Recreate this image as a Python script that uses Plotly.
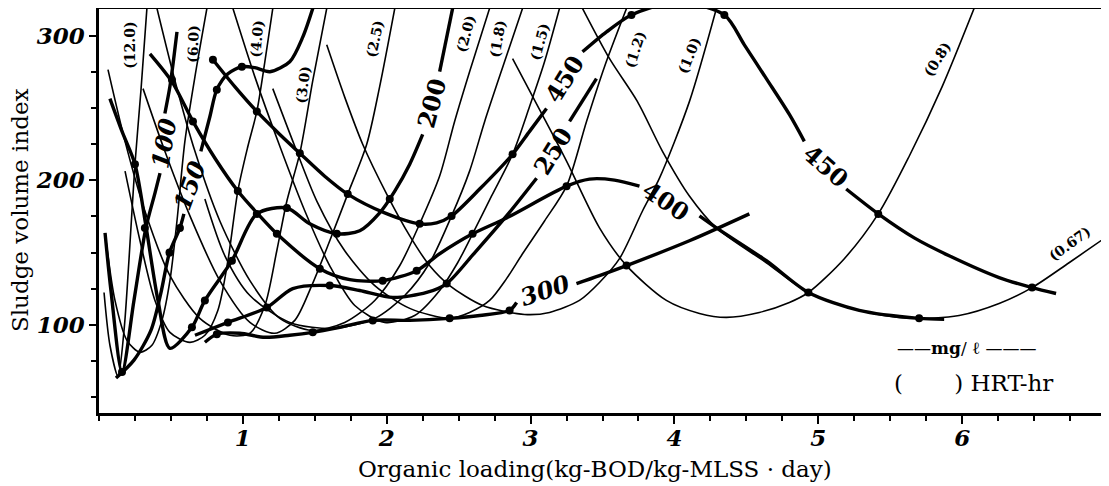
import plotly.graph_objects as go

# ---------------- data ----------------
# Thin curves: hydraulic retention time (HRT, hr). x = organic loading, y = SVI
hrt_12_0_x = [0.035, 0.076, 0.132, 0.174, 0.208, 0.25, 0.292, 0.333]
hrt_12_0_y = [122.4, 85.9, 64.5, 96.2, 144.4, 211.2, 262.8, 319.0]

hrt_6_0_x = [0.049, 0.111, 0.194, 0.285, 0.368, 0.4375, 0.493, 0.542, 0.597, 0.667, 0.75]
hrt_6_0_y = [158.2, 116.9, 89.3, 81.0, 85.9, 103.1, 130.6, 171.9, 227.0, 271.8, 319.0]

hrt_4_0_x = [0.181, 0.285, 0.389, 0.493, 0.632, 0.736, 0.826, 0.896, 0.965, 1.035, 1.097, 1.153, 1.208]
hrt_4_0_y = [206.4, 158.2, 116.9, 94.8, 87.9, 92.8, 110.0, 144.4, 192.6, 223.6, 247.7, 282.1, 319.0]

hrt_3_0_x = [0.0625, 0.181, 0.319, 0.493, 0.701, 0.91, 1.049, 1.153, 1.236, 1.306, 1.396, 1.486, 1.583]
hrt_3_0_y = [276.6, 227.0, 178.8, 134.1, 104.5, 92.8, 94.2, 113.4, 151.3, 185.7, 218.8, 269.0, 319.0]

hrt_2_5_x = [0.306, 0.458, 0.632, 0.840, 1.049, 1.222, 1.361, 1.479, 1.604, 1.729, 1.861, 1.951, 2.056]
hrt_2_5_y = [263.5, 220.1, 175.4, 130.6, 101.7, 94.2, 103.1, 127.2, 158.2, 190.5, 225.0, 264.9, 319.0]

hrt_2_0_x = [0.403, 0.528, 0.667, 0.840, 1.049, 1.257, 1.479, 1.708, 1.917, 2.09, 2.229, 2.368, 2.472, 2.576, 2.715]
hrt_2_0_y = [319.0, 269.0, 220.1, 171.9, 130.6, 104.5, 96.2, 101.7, 116.9, 140.9, 169.9, 203.0, 240.8, 275.2, 319.0]

hrt_1_8_x = [0.736, 0.875, 1.049, 1.326, 1.639, 1.917, 2.125, 2.299, 2.451, 2.576, 2.681, 2.819, 2.944]
hrt_1_8_y = [187.1, 147.8, 120.3, 101.7, 97.6, 104.5, 120.3, 143.0, 175.4, 206.4, 240.8, 282.1, 319.0]

hrt_1_5_x = [0.931, 1.083, 1.257, 1.431, 1.604, 1.778, 1.986, 2.194, 2.368, 2.493, 2.597, 2.729, 2.875, 2.993, 3.097, 3.201]
hrt_1_5_y = [319.0, 271.8, 223.6, 178.8, 140.9, 113.4, 101.7, 106.5, 123.8, 143.0, 163.0, 189.2, 218.1, 251.1, 282.1, 319.0]

hrt_1_2_x = [1.208, 1.361, 1.514, 1.708, 1.917, 2.16, 2.4375, 2.576, 2.715, 2.833, 2.944, 3.097, 3.25, 3.389, 3.514, 3.667]
hrt_1_2_y = [263.5, 223.6, 185.7, 151.3, 127.2, 111.4, 104.5, 108.6, 116.9, 132.0, 149.2, 171.9, 196.0, 240.8, 278.7, 319.0]

hrt_1_0_x = [1.583, 1.708, 1.833, 2.0, 2.16, 2.299, 2.4375, 2.667, 2.958, 3.132, 3.34, 3.479, 3.618, 3.778, 3.896, 4.104, 4.292]
hrt_1_0_y = [293.8, 257.6, 225.0, 190.5, 161.6, 140.9, 127.2, 113.4, 107.2, 108.6, 116.9, 129.3, 145.8, 178.8, 201.5, 254.5, 319.0]

hrt_0_8_x = [2.875, 3.0625, 3.25, 3.479, 3.667, 3.944, 4.174, 4.361, 4.59, 4.799, 4.931, 5.181, 5.417, 5.632, 5.861, 6.083]
hrt_0_8_y = [284.2, 249.0, 213.3, 167.1, 141.0, 116.9, 107.9, 105.2, 108.6, 115.5, 122.4, 145.8, 176.8, 216.7, 264.9, 319.0]

hrt_0_67_x = [3.361, 3.549, 3.743, 3.917, 4.104, 4.292, 4.639, 4.931, 5.285, 5.632, 5.979, 6.257, 6.486, 6.743, 6.993, 7.06]
hrt_0_67_y = [319.0, 284.2, 254.5, 220.1, 189.2, 167.1, 143.0, 122.4, 110.0, 104.5, 106.5, 114.8, 125.8, 143.0, 160.2, 165.0]

hrt_labels = ["(12.0)", "(6.0)", "(4.0)", "(3.0)", "(2.5)", "(2.0)", "(1.8)",
              "(1.5)", "(1.2)", "(1.0)", "(0.8)", "(0.67)"]

# Thick curves: influent concentration (mg/l), split where the label sits
mg_100_a_x = [0.042, 0.083, 0.16, 0.243, 0.326, 0.389, 0.424]
mg_100_a_y = [163.7, 123.8, 67.3, 116.9, 167.1, 191.2, 205.0]
mg_100_b_x = [0.458, 0.493, 0.521, 0.542]
mg_100_b_y = [246.3, 264.9, 285.5, 302.8]

mg_150_a_x = [0.118, 0.243, 0.361, 0.43, 0.49, 0.5625, 0.590]
mg_150_a_y = [63.2, 75.6, 96.2, 122.0, 150.0, 167.1, 176.8]
mg_150_b_x = [0.708, 0.771, 0.819, 0.896, 0.993, 1.083, 1.188, 1.326, 1.417, 1.486]
mg_150_b_y = [220.1, 244.2, 262.8, 273.8, 278.7, 278.0, 275.2, 282.1, 299.3, 319.0]

mg_200_a_x = [0.076, 0.16, 0.25, 0.326, 0.41, 0.493, 0.646, 0.736, 0.924, 1.097, 1.306,
              1.465, 1.653, 1.8125, 1.951, 2.056, 2.16, 2.25]
mg_200_a_y = [256.6, 233.9, 211.2, 168.5, 116.9, 83.8, 98.3, 116.9, 144.4, 176.8, 180.9,
              169.9, 163.0, 165.1, 177.5, 192.6, 211.2, 231.8]
mg_200_b_x = [2.368, 2.458]
mg_200_b_y = [275.2, 319.0]

mg_250_a_x = [0.667, 0.896, 1.167, 1.347, 1.604, 1.8125, 2.042, 2.278, 2.417, 2.611, 2.833, 3.042]
mg_250_a_y = [92.8, 101.7, 112.0, 125.1, 127.2, 123.8, 119.0, 122.4, 128.6, 149.9, 175.4, 201.5]
mg_250_b_x = [3.271, 3.458]
mg_250_b_y = [240.8, 270.4]

mg_300_a_x = [0.736, 0.819, 0.979, 1.153, 1.326, 1.486, 1.674, 1.903, 2.16, 2.4375, 2.646, 2.854, 2.903]
mg_300_a_y = [88.0, 93.5, 94.2, 91.4, 92.8, 94.8, 98.3, 103.1, 103.1, 104.5, 106.5, 110.0, 115.5]
mg_300_b_x = [3.319, 3.479, 3.667, 4.104, 4.521]
mg_300_b_y = [128.6, 134.1, 141.0, 158.2, 176.8]

mg_400_a_x = [0.354, 0.507, 0.653, 0.806, 0.965, 1.104, 1.236, 1.535, 1.743, 1.972, 2.208,
              2.368, 2.597, 2.833, 3.25, 3.41, 3.583, 3.757]
mg_400_a_y = [287.6, 268.3, 240.8, 215.3, 192.6, 176.8, 163.0, 138.9, 131.3, 130.6, 137.5,
              149.2, 163.0, 174.0, 196.0, 200.9, 200.2, 196.0]
mg_400_b_x = [4.174, 4.292, 4.639, 4.931, 5.285, 5.701, 5.875]
mg_400_b_y = [175.4, 167.1, 144.4, 122.4, 110.0, 104.5, 103.8]

mg_450_a_x = [0.792, 0.944, 1.097, 1.257, 1.396, 1.569, 1.729, 1.986, 2.229, 2.347, 2.451,
              2.646, 2.875, 2.993, 3.111]
mg_450_a_y = [283.5, 264.9, 247.7, 231.8, 218.8, 202.9, 190.5, 177.5, 169.9, 170.6, 175.4,
              194.0, 218.1, 233.9, 249.7]
mg_450_b_x = [3.361, 3.528, 3.701, 4.021, 4.347, 4.486, 4.639, 4.799, 4.903]
mg_450_b_y = [289.0, 302.8, 314.5, 323.4, 314.5, 293.8, 270.4, 245.6, 227.0]
mg_450_c_x = [5.194, 5.417, 5.667, 5.91, 6.257, 6.486, 6.653]
mg_450_c_y = [194.0, 176.8, 160.2, 147.8, 132.7, 125.8, 121.7]

mg_labels = ["100", "150", "200", "250", "300", "400", "450", "450"]

# Measured points (dots)
dot_x = [3.701, 4.347, 5.417, 4.931, 6.486, 5.701, 3.667, 3.25, 2.875, 2.451, 2.229, 2.597,
         2.417, 2.854, 2.4375, 2.021, 1.729, 1.396, 1.097, 0.792, 0.993, 0.819, 0.507, 0.653,
         0.25, 0.965, 1.167, 1.236, 1.535, 1.972, 2.208, 1.604, 1.903, 1.486, 0.896, 0.819,
         0.736, 0.924, 0.5625, 0.49, 0.319, 0.16, 1.653, 1.306, 1.097, 0.646]
dot_y = [314.5, 314.5, 176.8, 122.4, 125.8, 104.5, 141.0, 196.0, 218.1, 175.4, 169.9, 163.0,
         128.6, 110.0, 104.5, 187.1, 190.5, 218.8, 247.7, 283.5, 278.7, 262.8, 269.7, 240.8,
         211.2, 192.6, 112.0, 163.0, 138.9, 130.6, 137.5, 127.2, 103.1, 94.8, 101.7, 93.5,
         116.9, 144.4, 167.1, 150.0, 167.1, 67.3, 163.0, 180.9, 176.8, 98.3]

x_ticks = [1, 2, 3, 4, 5, 6]
y_ticks = [100, 200, 300]

# ---------------- figure ----------------
fig = go.Figure()

thin_line = dict(color="black", width=1.6, shape="spline", smoothing=0.8)
thick_line = dict(color="black", width=3.4, shape="spline", smoothing=0.8)

hrt_curves = [
    (hrt_12_0_x, hrt_12_0_y), (hrt_6_0_x, hrt_6_0_y), (hrt_4_0_x, hrt_4_0_y),
    (hrt_3_0_x, hrt_3_0_y), (hrt_2_5_x, hrt_2_5_y), (hrt_2_0_x, hrt_2_0_y),
    (hrt_1_8_x, hrt_1_8_y), (hrt_1_5_x, hrt_1_5_y), (hrt_1_2_x, hrt_1_2_y),
    (hrt_1_0_x, hrt_1_0_y), (hrt_0_8_x, hrt_0_8_y), (hrt_0_67_x, hrt_0_67_y),
]
for xs, ys in hrt_curves:
    fig.add_trace(go.Scatter(x=xs, y=ys, mode="lines", line=thin_line,
                             hoverinfo="skip", showlegend=False))

mg_curves = [
    (mg_100_a_x, mg_100_a_y), (mg_100_b_x, mg_100_b_y),
    (mg_150_a_x, mg_150_a_y), (mg_150_b_x, mg_150_b_y),
    (mg_200_a_x, mg_200_a_y), (mg_200_b_x, mg_200_b_y),
    (mg_250_a_x, mg_250_a_y), (mg_250_b_x, mg_250_b_y),
    (mg_300_a_x, mg_300_a_y), (mg_300_b_x, mg_300_b_y),
    (mg_400_a_x, mg_400_a_y), (mg_400_b_x, mg_400_b_y),
    (mg_450_a_x, mg_450_a_y), (mg_450_b_x, mg_450_b_y), (mg_450_c_x, mg_450_c_y),
]
for xs, ys in mg_curves:
    fig.add_trace(go.Scatter(x=xs, y=ys, mode="lines", line=thick_line,
                             hoverinfo="skip", showlegend=False))

fig.add_trace(go.Scatter(x=dot_x, y=dot_y, mode="markers",
                         marker=dict(color="black", size=8),
                         hoverinfo="skip", showlegend=False))

# label placement (layout only)
hrt_label_pos = [(0.215, 293.8, -90), (0.653, 294.5, -88), (1.097, 297.9, -85),
                 (1.417, 266.2, -83), (1.917, 297.9, -78), (2.549, 301.4, -75),
                 (2.771, 297.9, -80), (3.0625, 295.8, -75), (3.729, 291.0, -72),
                 (4.104, 286.8, -68), (5.826, 284.2, -58), (6.743, 156.1, -36)]
annotations = []
for txt, (ax, ay, ang) in zip(hrt_labels, hrt_label_pos):
    annotations.append(dict(x=ax, y=ay, xref="x", yref="y", text=txt, showarrow=False,
                            textangle=ang,
                            font=dict(family="DejaVu Serif", size=14, color="black", weight="bold")))

mg_label_pos = [(0.451, 225.6, -80, "italic"), (0.632, 196.2, -70, "italic"),
                (2.3125, 253.2, -75, "normal"), (3.153, 220.1, -58, "normal"),
                (3.097, 123.8, -18, "italic"), (3.944, 185.7, 34, "normal"),
                (3.236, 269.7, -58, "normal"), (5.056, 209.9, 41, "normal")]
for txt, (ax, ay, ang, st) in zip(mg_labels, mg_label_pos):
    annotations.append(dict(x=ax, y=ay, xref="x", yref="y", text=txt, showarrow=False,
                            textangle=ang,
                            font=dict(family="DejaVu Serif", size=24, color="black",
                                      weight="bold", style=st)))

# figure is placed 8px right/down by the page margin, so the canvas is sized to fit
FIG_W, FIG_H = 1101, 478
M_L, M_R, M_T, M_B = 91, 3, 1, 73
PW, PH = FIG_W - M_L - M_R, FIG_H - M_T - M_B


def px_to_paper(px, py):
    # target page position -> paper coordinates (layout helper for text placement)
    return (px - 8 - M_L) / PW, (FIG_H - M_B - (py - 8)) / PH


tx, ty = px_to_paper(595, 469)
annotations.append(dict(x=tx, y=ty, xref="paper", yref="paper",
                        text="Organic loading(kg-BOD/kg-MLSS · day)", showarrow=False,
                        xanchor="center", yanchor="middle",
                        font=dict(family="DejaVu Serif", size=23, color="black")))
tx, ty = px_to_paper(20, 210)
annotations.append(dict(x=tx, y=ty, xref="paper", yref="paper",
                        text="Sludge volume index", showarrow=False, textangle=-90,
                        xanchor="center", yanchor="middle",
                        font=dict(family="DejaVu Serif", size=23, color="black")))
tx, ty = px_to_paper(967, 348)
annotations.append(dict(x=tx, y=ty, xref="paper", yref="paper",
                        text="——<b>mg</b>/ ℓ ———", showarrow=False,
                        xanchor="center", yanchor="middle",
                        font=dict(family="DejaVu Serif", size=17, color="black")))
tx, ty = px_to_paper(973, 383)
annotations.append(dict(x=tx, y=ty, xref="paper", yref="paper",
                        text="(       ) HRT-hr", showarrow=False,
                        xanchor="center", yanchor="middle",
                        font=dict(family="DejaVu Serif", size=23, color="black")))

tick_font = dict(family="DejaVu Serif", size=23, color="black", weight="bold", style="italic")

fig.update_layout(
    width=FIG_W, height=FIG_H,
    margin=dict(l=M_L, r=M_R, t=M_T, b=M_B),
    plot_bgcolor="white", paper_bgcolor="white",
    showlegend=False,
    annotations=annotations,
)
fig.update_xaxes(
    range=[0, 7], tickmode="array", tickvals=x_ticks, ticktext=[str(v) for v in x_ticks],
    ticks="outside", ticklen=8, tickwidth=2, tickcolor="black",
    showline=True, linecolor="black", linewidth=2.5, mirror=True,
    showgrid=False, zeroline=False, tickfont=tick_font, automargin=False,
    ticklabelstandoff=-5,
    minor=dict(tickmode="linear", tick0=0, dtick=0.25, ticks="outside", ticklen=5,
               tickwidth=1.5, tickcolor="black", showgrid=False),
)
fig.update_yaxes(
    range=[39, 318.6], tickmode="array", tickvals=y_ticks, ticktext=[str(v) for v in y_ticks],
    ticks="outside", ticklen=7, tickwidth=2, tickcolor="black",
    showline=True, linecolor="black", linewidth=2.5, mirror=True,
    showgrid=False, zeroline=False, tickfont=tick_font, automargin=False,
    minor=dict(tickmode="linear", tick0=0, dtick=25, ticks="outside", ticklen=5,
               tickwidth=1.5, tickcolor="black", showgrid=False),
)

fig.write_html("out.html")
